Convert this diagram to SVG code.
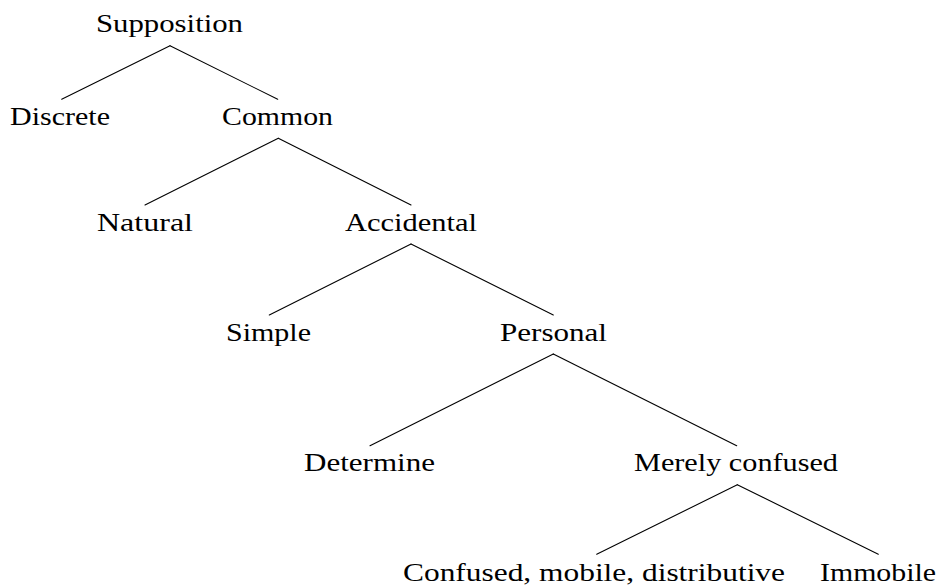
<svg xmlns="http://www.w3.org/2000/svg" width="938" height="585" viewBox="0 0 938 585">
<style>
text { font-family: "Liberation Serif", "Times New Roman", serif; font-size: 25px; fill: #000; }
.e { stroke: #000; stroke-width: 1.1; fill: none; stroke-linecap: round; }
</style>
<rect width="938" height="585" fill="#fff"/>
<g id="connectors">
<line class="e" x1="170" y1="45.7" x2="61.7" y2="99.3"/>
<line class="e" x1="170" y1="45.7" x2="277.7" y2="99.3"/>
<line class="e" x1="278.3" y1="138.3" x2="145" y2="205"/>
<line class="e" x1="278.3" y1="138.3" x2="411" y2="205"/>
<line class="e" x1="411" y1="244" x2="269.3" y2="315"/>
<line class="e" x1="411" y1="244" x2="553.3" y2="315"/>
<line class="e" x1="553.3" y1="354" x2="370" y2="445.7"/>
<line class="e" x1="553.3" y1="354" x2="736.7" y2="445.7"/>
<line class="e" x1="737.3" y1="484.7" x2="596.7" y2="554.3"/>
<line class="e" x1="737.3" y1="484.7" x2="878.3" y2="554.3"/>
</g>
<g id="supposition"><text x="96" y="32" textLength="147" lengthAdjust="spacingAndGlyphs">Supposition</text></g>
<g id="discrete"><text x="10" y="125" textLength="100" lengthAdjust="spacingAndGlyphs">Discrete</text></g>
<g id="common"><text x="222" y="125" textLength="111" lengthAdjust="spacingAndGlyphs">Common</text></g>
<g id="natural"><text x="97" y="230.7" textLength="96" lengthAdjust="spacingAndGlyphs">Natural</text></g>
<g id="accidental"><text x="345" y="230.7" textLength="132" lengthAdjust="spacingAndGlyphs">Accidental</text></g>
<g id="simple"><text x="226" y="340.7" textLength="85" lengthAdjust="spacingAndGlyphs">Simple</text></g>
<g id="personal"><text x="500" y="340.7" textLength="107" lengthAdjust="spacingAndGlyphs">Personal</text></g>
<g id="determine"><text x="304" y="470.7" textLength="131" lengthAdjust="spacingAndGlyphs">Determine</text></g>
<g id="merely-confused"><text x="634" y="470.7" textLength="204" lengthAdjust="spacingAndGlyphs">Merely confused</text></g>
<g id="confused-mobile-distributive"><text x="403" y="581" textLength="382" lengthAdjust="spacingAndGlyphs">Confused, mobile, distributive</text></g>
<g id="immobile"><text x="820" y="581" textLength="116" lengthAdjust="spacingAndGlyphs">Immobile</text></g>
</svg>
